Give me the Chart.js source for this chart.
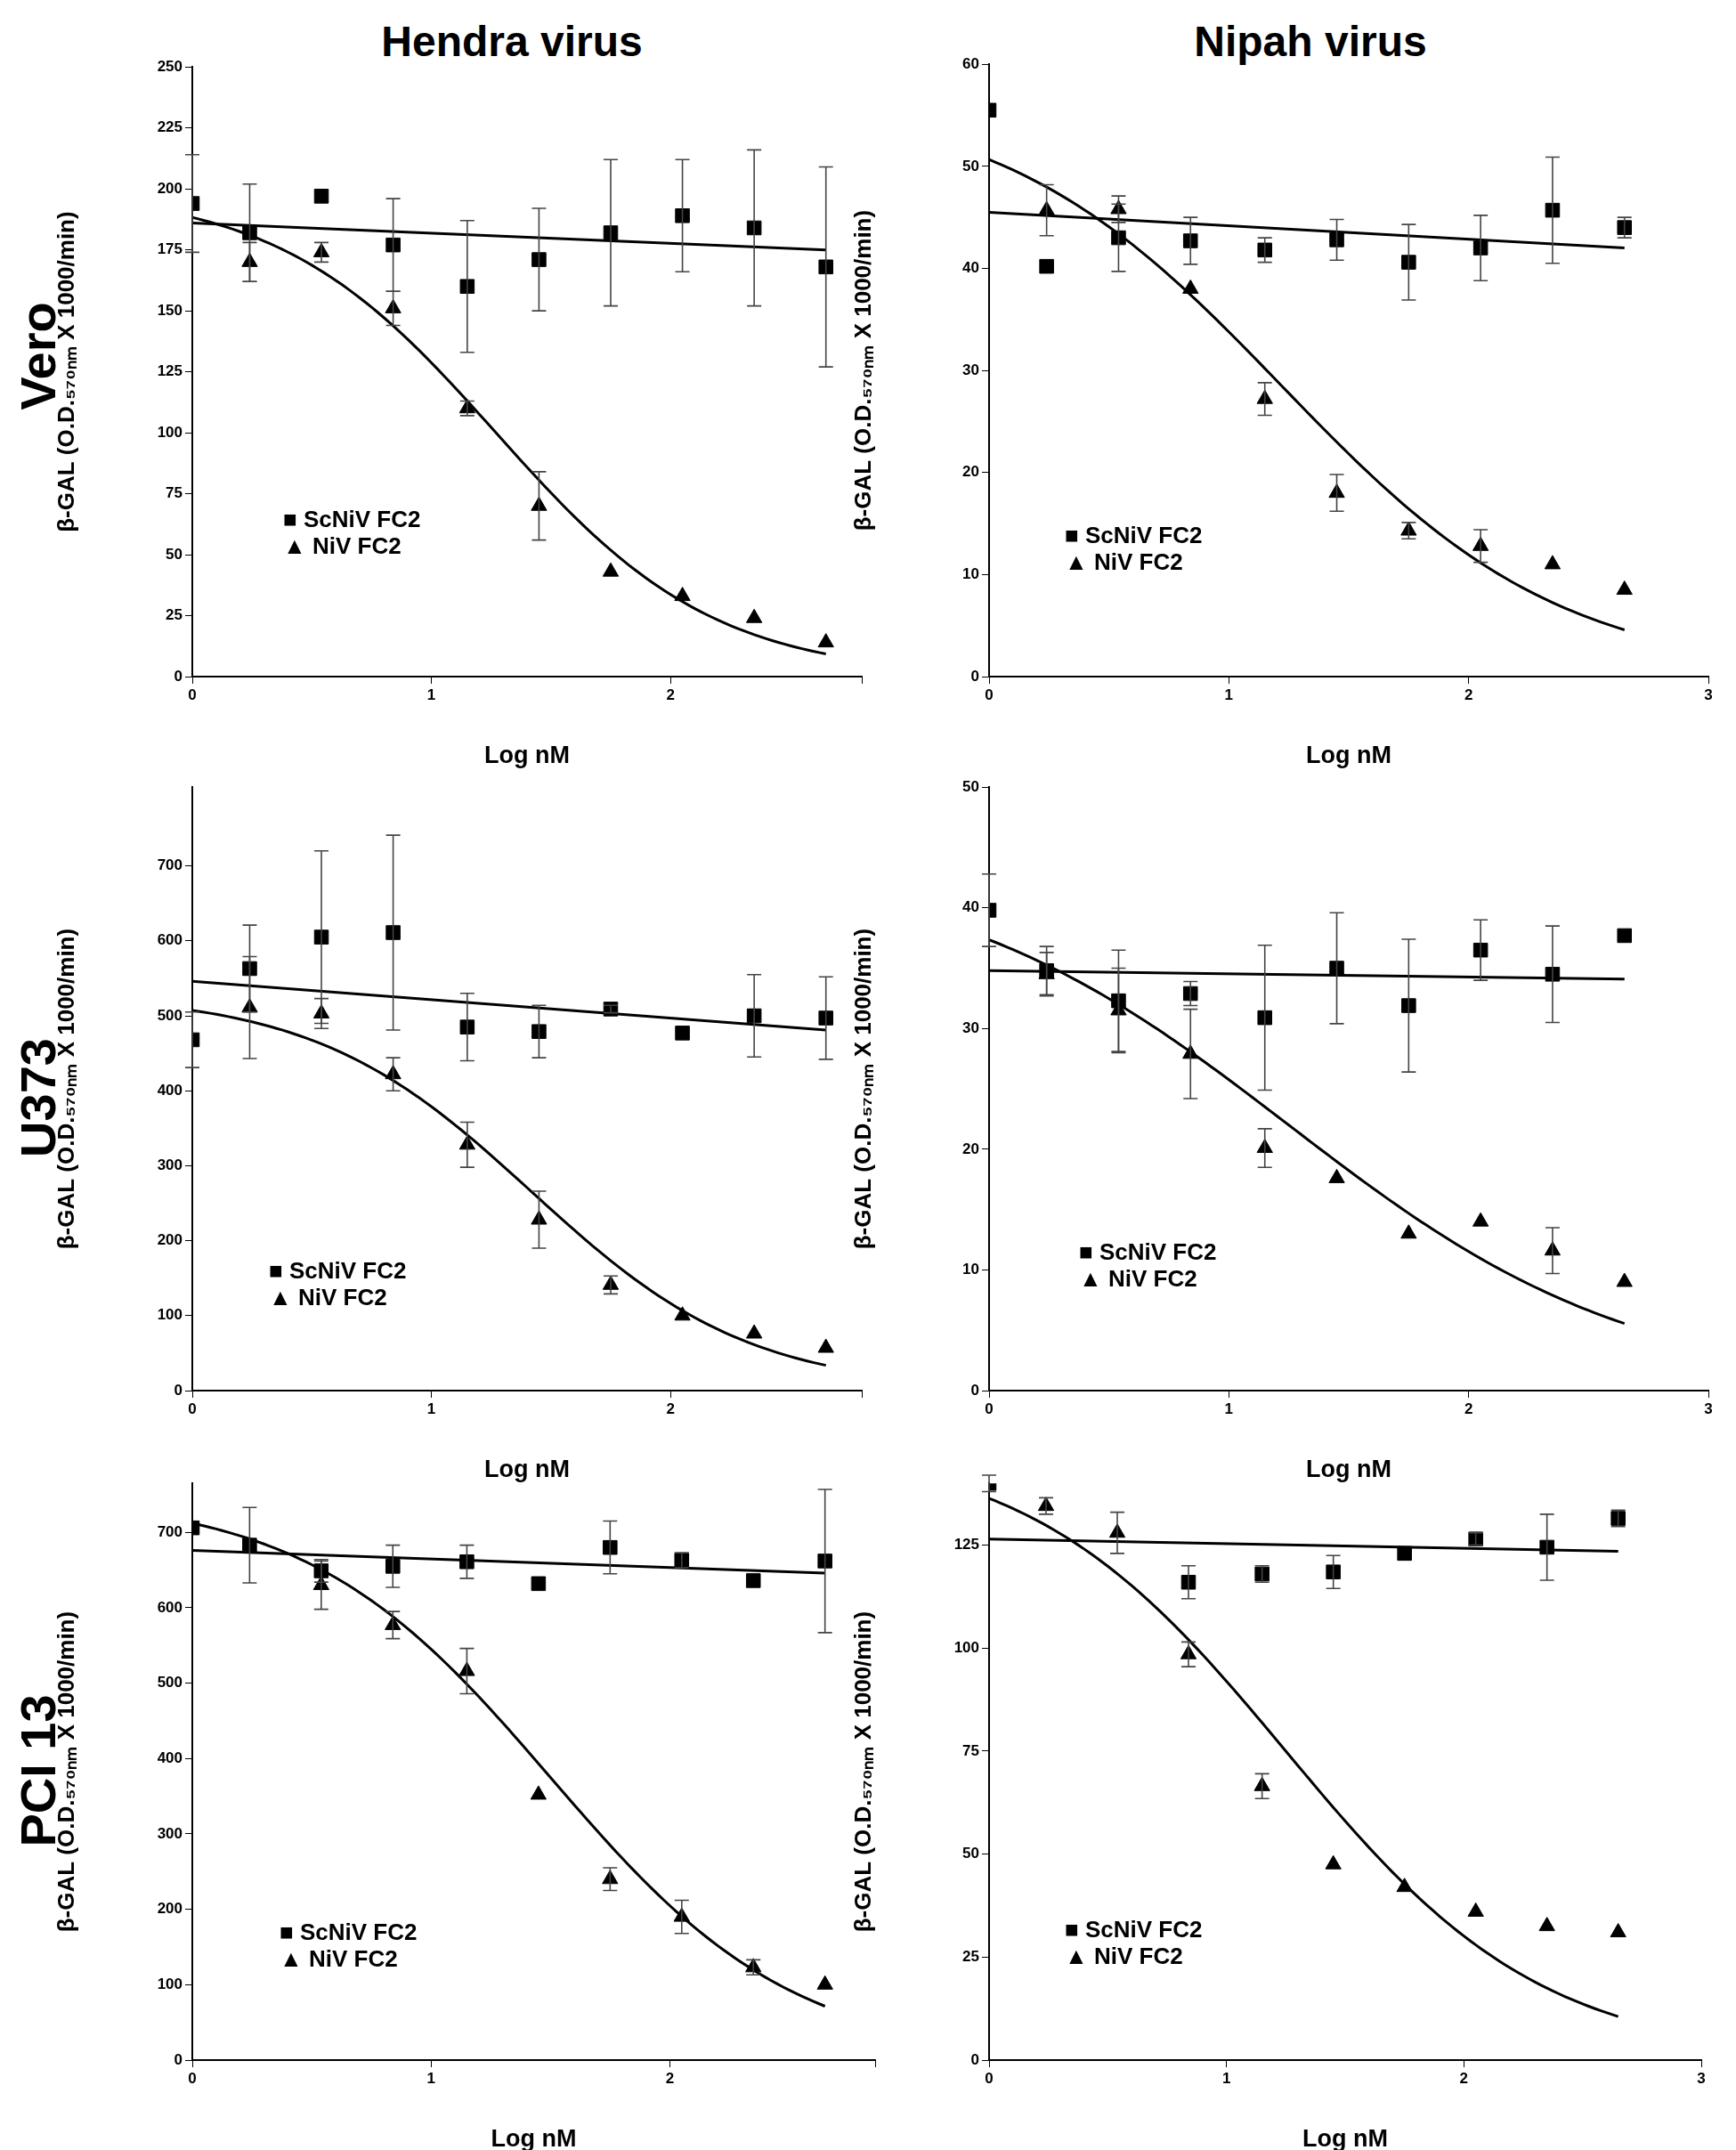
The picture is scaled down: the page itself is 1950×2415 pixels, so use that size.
<!DOCTYPE html>
<html><head><meta charset="utf-8">
<script src="https://cdn.jsdelivr.net/npm/chart.js@4"></script>
<style>
body{margin:0;width:1950px;height:2415px;background:#fff;position:relative;font-family:"Liberation Sans",Arial,sans-serif;overflow:hidden;}
.w{position:absolute;}
.t{position:absolute;font-weight:bold;color:#000;white-space:nowrap;}
.leg{position:absolute;font-weight:bold;font-size:26px;line-height:30px;}
</style></head><body>
<script>
// ---- data ----
const logX = [0, 0.24, 0.54, 0.84, 1.15, 1.45, 1.75, 2.05, 2.35, 2.65];
// Panel 1: Vero / Hendra
const p1Sq = [194,182,197,177,160,171,182,189,184,168];
const p1SqErr = [20,20,0,19,27,21,30,23,32,41];
const p1Tr = [null,170,174,151,110,70,43,33,24,14];
const p1TrErr = [0,8,4,7,3,14,0,0,0,0];
const p1Flat = [186,175]; const p1Fit = [200,0,1.27,0.95];
// Panel 2: Vero / Nipah
const p2Sq = [55.5,40.2,43,42.7,41.8,42.8,40.6,42,45.7,44];
const p2SqErr = [0,0,3.3,2.3,1.2,2,3.7,3.2,5.2,1];
const p2Tr = [null,45.7,45.8,38,27.2,18,14.3,12.8,11,8.5];
const p2TrErr = [0,2.5,1.3,0,1.6,1.8,0.8,1.6,0,0];
const p2Flat = [45.5,42]; const p2Fit = [57,0,1.22,0.74];
// Panel 3: U373 / Hendra
const p3Sq = [468,563,605,611,485,479,509,477,500,497];
const p3SqErr = [37,58,115,130,45,35,5,0,55,55];
const p3Tr = [null,511,503,422,328,228,141,100,76,57];
const p3TrErr = [0,68,20,22,30,38,12,0,0,0];
const p3Flat = [546,481]; const p3Fit = [530,0,1.42,0.95];
// Panel 4: U373 / Nipah
const p4Sq = [39.8,34.8,32.3,32.9,30.9,35,31.9,36.5,34.5,37.7];
const p4SqErr = [3,2,4.2,1,6,4.6,5.5,2.5,4,0];
const p4Tr = [null,34.5,31.5,27.9,20.1,17.6,13,14,11.6,9];
const p4TrErr = [0,1.8,3.5,3.7,1.6,0,0,0,1.9,0];
const p4Flat = [34.8,34.1]; const p4Fit = [44,0,1.25,0.6];
// Panel 5: PCI 13 / Hendra
const p5Sq = [706,683,649,655,661,632,680,663,636,662];
const p5SqErr = [0,50,15,28,22,0,35,10,0,95];
const p5Tr = [null,null,630,577,516,352,240,190,123,100];
const p5TrErr = [0,0,32,18,30,0,15,22,10,0];
const p5Flat = [676,646]; const p5Fit = [750,0,1.5,0.85];
// Panel 6: PCI 13 / Nipah
const p6Sq = [140,null,null,116,118,118.5,123,126.5,124.5,131.5];
const p6SqErr = [2,0,0,4,2,4,0,1.5,8,2];
const p6Tr = [null,134.5,128,98.5,66.5,47.5,42,36,32.5,31];
const p6TrErr = [0,2,5,3,3,0,0,0,0,0];
const p6Flat = [126.5,123.5]; const p6Fit = [150,0,1.25,0.8];

const yTitle = "β-GAL (O.D.₅₇₀ₙₘ X 1000/min)";
const panels = [
 {sq:p1Sq,sqE:p1SqErr,tr:p1Tr,trE:p1TrErr,flat:p1Flat,fit:p1Fit,L:216,R:968,T:74,B:760,xmax:2.8,ymax:250,step:25,ytop:250,leg:[318,568]},
 {sq:p2Sq,sqE:p2SqErr,tr:p2Tr,trE:p2TrErr,flat:p2Flat,fit:p2Fit,L:1111,R:1919,T:71,B:760,xmax:3,ymax:60,step:10,ytop:60,leg:[1196,586]},
 {sq:p3Sq,sqE:p3SqErr,tr:p3Tr,trE:p3TrErr,flat:p3Flat,fit:p3Fit,L:216,R:968,T:883,B:1562,xmax:2.8,ymax:805,step:100,ytop:700,leg:[302,1412]},
 {sq:p4Sq,sqE:p4SqErr,tr:p4Tr,trE:p4TrErr,flat:p4Flat,fit:p4Fit,L:1111,R:1919,T:883,B:1562,xmax:3,ymax:50,step:10,ytop:50,leg:[1212,1391]},
 {sq:p5Sq,sqE:p5SqErr,tr:p5Tr,trE:p5TrErr,flat:p5Flat,fit:p5Fit,L:216,R:983,T:1665,B:2314,xmax:2.86,ymax:765,step:100,ytop:700,leg:[314,2155]},
 {sq:p6Sq,sqE:p6SqErr,tr:p6Tr,trE:p6TrErr,flat:p6Flat,fit:p6Fit,L:1111,R:1911,T:1665,B:2314,xmax:3,ymax:140,step:25,ytop:125,leg:[1196,2152]},
];

function add(cls,html,style){const d=document.createElement('div');d.className=cls;d.innerHTML=html;d.style.cssText=style;document.body.appendChild(d);return d;}
add('t','Hendra virus','left:575px;top:46px;font-size:48px;transform:translate(-50%,-50%);');
add('t','Nipah virus','left:1472px;top:46px;font-size:48px;transform:translate(-50%,-50%);');
[['Vero',400],['U373',1233],['PCI 13',1989]].forEach(([s,y])=>add('t',s,`left:42px;top:${y}px;font-size:56px;transform:translate(-50%,-50%) rotate(-90deg);`));

const errPlugin={id:'err',afterDatasetsDraw(chart){
  const ctx=chart.ctx,xs=chart.scales.x,ys=chart.scales.y;
  ctx.save();ctx.strokeStyle='#444';ctx.lineWidth=1.6;
  chart.data.datasets.forEach(ds=>{ if(!ds.errs) return;
    ds.data.forEach((p,i)=>{const e=ds.errs[i]; if(p.y==null||!e) return;
      const x=xs.getPixelForValue(p.x),y1=ys.getPixelForValue(p.y+e),y2=ys.getPixelForValue(p.y-e);
      ctx.beginPath();ctx.moveTo(x,y1);ctx.lineTo(x,y2);ctx.moveTo(x-8,y1);ctx.lineTo(x+8,y1);ctx.moveTo(x-8,y2);ctx.lineTo(x+8,y2);ctx.stroke();});
  });ctx.restore();}};

const PADL=160,PADB=110;
panels.forEach(p=>{
  const cl=p.L-PADL, ct=p.T-12, w=p.R-cl+20, h=p.B-ct+PADB;
  const wrap=add('w','',`left:${cl}px;top:${ct}px;width:${w}px;height:${h}px;`);
  const cv=document.createElement('canvas');wrap.appendChild(cv);
  const [top,bot,c,hs]=p.fit; const fitPts=[];
  for(let x=0;x<=2.651;x+=0.025) fitPts.push({x,y:bot+(top-bot)/(1+Math.pow(10,(x-c)*hs))});
  const pts=a=>logX.map((x,i)=>({x,y:a[i]}));
  new Chart(cv,{type:'scatter',plugins:[errPlugin],
   data:{datasets:[
    {data:fitPts,showLine:true,borderColor:'#000',borderWidth:3,pointRadius:0,type:'line'},
    {data:[{x:0,y:p.flat[0]},{x:2.65,y:p.flat[1]}],showLine:true,borderColor:'#000',borderWidth:3,pointRadius:0,type:'line'},
    {data:pts(p.sq),errs:p.sqE,pointStyle:'rect',pointRadius:11,backgroundColor:'#000',borderColor:'#000'},
    {data:pts(p.tr),errs:p.trE,pointStyle:'triangle',pointRadius:10,backgroundColor:'#000',borderColor:'#000'},
   ]},
   options:{responsive:true,maintainAspectRatio:false,animation:false,
    layout:{padding:{left:0,right:20,top:12,bottom:0}},
    plugins:{legend:{display:false},tooltip:{enabled:false}},
    scales:{
     x:{type:'linear',min:0,max:p.xmax,afterFit:s=>{s.height=PADB;},
       ticks:{stepSize:1,color:'#000',font:{size:17,weight:'bold'},callback:v=>Number.isInteger(v)?v:''},
       grid:{drawOnChartArea:false,tickLength:8,color:'#000'},border:{color:'#000',width:2},
       title:{display:true,text:'Log nM',color:'#000',font:{size:27,weight:'bold'},padding:{top:14}}},
     y:{min:0,max:p.ymax,afterFit:s=>{s.width=PADL;},
       afterBuildTicks:s=>{const t=[];for(let v=0;v<=p.ytop+1e-9;v+=p.step)t.push({value:v});s.ticks=t;},
       ticks:{color:'#000',font:{size:17,weight:'bold'}},
       grid:{drawOnChartArea:false,tickLength:8,color:'#000'},border:{color:'#000',width:2},
       title:{display:true,text:yTitle,color:'#000',font:{size:26,weight:'bold'},padding:{bottom:8}}}
    }}});
  add('leg','■&nbsp;ScNiV FC2<br>▲&nbsp;NiV FC2',`left:${p.leg[0]}px;top:${p.leg[1]}px;`);
});
</script>
</body></html>
